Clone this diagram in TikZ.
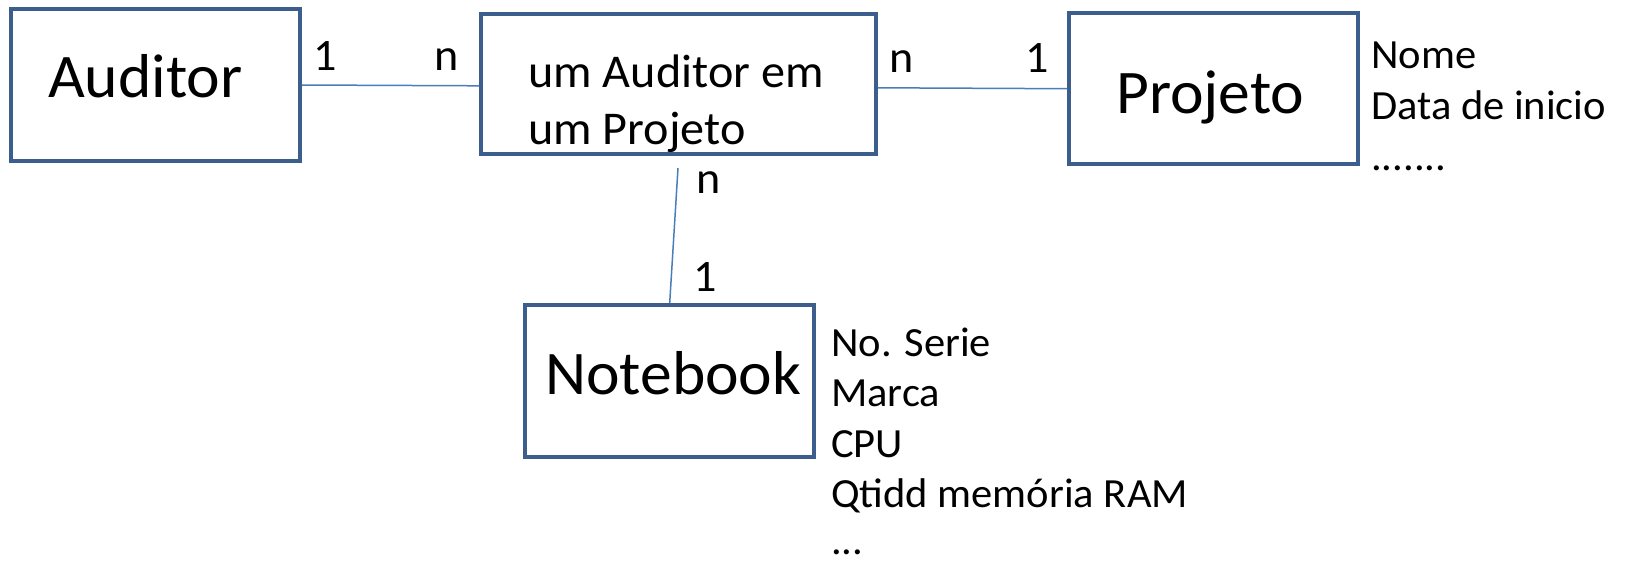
\documentclass[tikz,border=0pt]{standalone}
\usepackage{fontspec}
\setmainfont{Carlito}[FakeStretch=1.025]
\definecolor{boxblue}{HTML}{3B5E8C}
\definecolor{lineblue}{HTML}{4A7EBB}
\tikzset{
  entbox/.style={draw=boxblue, line width=4pt, minimum width=#1, inner sep=0pt, fill=white},
  conn/.style={draw=lineblue, line width=1.5pt},
  bigtxt/.style={anchor=base west, inner sep=0pt, font=\fontsize{62}{74}\selectfont},
  midtxt/.style={anchor=base west, inner sep=0pt, font=\fontsize{47}{57}\selectfont},
  lbltxt/.style={anchor=base west, inner sep=0pt, font=\fontsize{45}{54}\selectfont},
  attrtxt/.style={anchor=base west, inner sep=0pt, font=\fontsize{41.5}{50.5}\selectfont},
}
\begin{document}
\begin{tikzpicture}[x=1pt,y=-1pt]
\path[use as bounding box, fill=white] (0,0) rectangle (1625,565);
% boxes
\node[entbox=288.5pt, minimum height=152pt] (aud) at (155.7,85) {};
\node[entbox=395pt, minimum height=140pt] (mid) at (678.5,83.8) {};
\node[entbox=289pt, minimum height=150.5pt] (proj) at (1213.5,88.7) {};
\node[entbox=289.5pt, minimum height=152pt] (nb) at (669.7,381) {};
% box texts
\node[bigtxt] (audT) at (48,97) {Auditor};
\node[midtxt] (midT1) at (528,87) {um Auditor em};
\node[midtxt] (midT2) at (528,144) {um Projeto};
\node[bigtxt] (projT) at (1116,113) {Projeto};
\node[bigtxt] (nbT) at (545,394) {Notebook};
% connectors
\draw[conn] (aud.east) -- ([yshift=-2pt]mid.west);
\draw[conn] ([yshift=-4pt]mid.east) -- (proj.west);
\coordinate (vtop) at (678,168);
\draw[conn] (vtop) -- (nb.north);
% cardinality labels
\node[lbltxt] (l1) at (313,70) {1};
\node[lbltxt] (l2) at (434,70) {n};
\node[lbltxt] (l3) at (889,72) {n};
\node[lbltxt] (l4) at (1025,72.5) {1};
\node[lbltxt] (l5) at (696,193) {n};
\node[lbltxt] (l6) at (693,291) {1};
% attributes
\node[attrtxt] (p1) at (1371,68) {Nome};
\node[attrtxt] (p2) at (1371,119) {Data de inicio};
\node[attrtxt] (p3) at (1371,170) {.......};
\node[attrtxt] (n1) at (831,356) {No. Serie};
\node[attrtxt] (n2) at (831,406.5) {Marca};
\node[attrtxt] (n3) at (831,457) {CPU};
\node[attrtxt] (n4) at (831,507.5) {Qtidd memória RAM};
\node[attrtxt, text depth=0pt] (n5) at (831,554) {...};
\end{tikzpicture}
\end{document}
